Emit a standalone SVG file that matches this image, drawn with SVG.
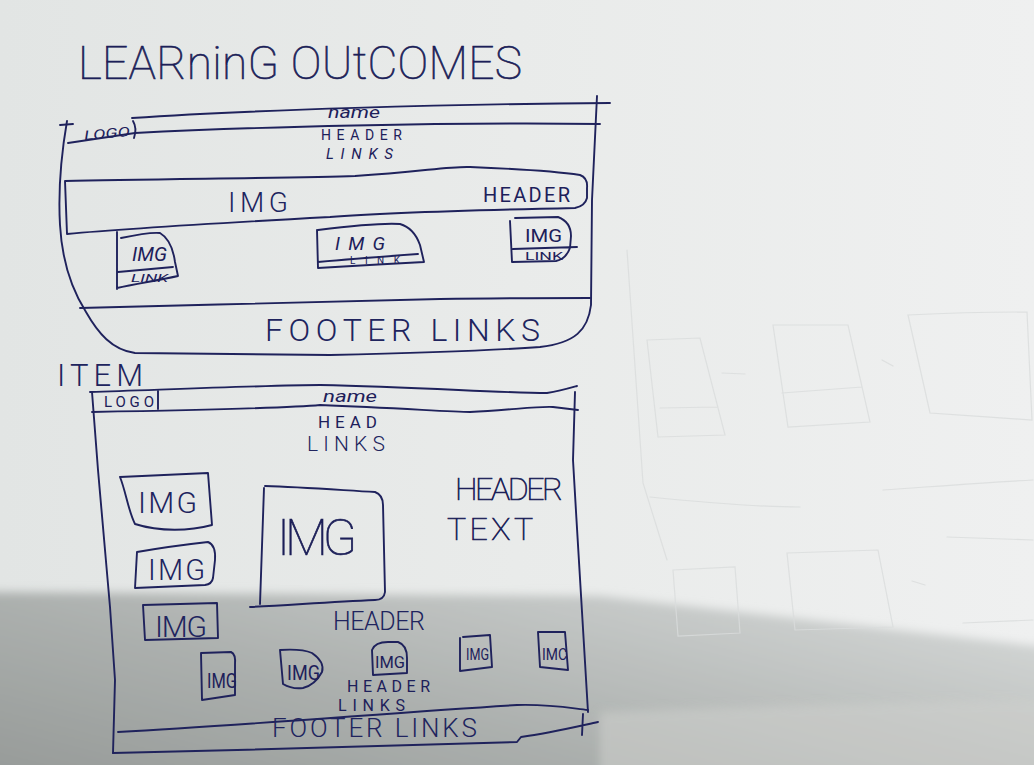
<svg xmlns="http://www.w3.org/2000/svg" width="1034" height="765" viewBox="0 0 1034 765">
  <defs>
    <linearGradient id="paper" x1="0" y1="0" x2="1" y2="0">
      <stop offset="0" stop-color="#e2e5e4"/>
      <stop offset="0.5" stop-color="#e9ebea"/>
      <stop offset="1" stop-color="#eff0f0"/>
    </linearGradient>
    <linearGradient id="shade" x1="0" y1="1" x2="1" y2="0.3">
      <stop offset="0" stop-color="#959997"/>
      <stop offset="0.45" stop-color="#abafad"/>
      <stop offset="1" stop-color="#d0d3d2"/>
    </linearGradient>
    <filter id="soft" x="-5%" y="-20%" width="110%" height="140%">
      <feGaussianBlur stdDeviation="5"/>
    </filter>
    <style>
      .ink { fill: none; stroke: #1f225c; stroke-width: 1.9; stroke-linecap: round; stroke-linejoin: round; }
      .ghost { fill: none; stroke: #d9dcdc; stroke-width: 1.2; stroke-linecap: round; opacity: 0.8; }
      .t { font-family: Roboto, "DejaVu Sans", sans-serif; fill: #20245e; font-weight: 300; }
      .thin { font-family: Roboto, "DejaVu Sans", sans-serif; fill: #1c1f58; stroke: #1c1f58; stroke-width: 0.7; font-weight: 100; }
      .h { font-family: Roboto, "DejaVu Sans", sans-serif; fill: #1d205a; font-weight: 400; }
    </style>
  </defs>

  <!-- paper and the shadow falling across its lower part -->
  <rect width="1034" height="765" fill="url(#paper)"/>
  <path d="M-20,592 L600,596 L1054,648 L1054,785 L-20,785 Z" fill="url(#shade)" filter="url(#soft)"/>
  <path d="M600,712 C760,706 900,702 1054,700 L1054,785 L600,785 Z" fill="#cfd0cd" opacity="0.55" filter="url(#soft)"/>

  <!-- faint pencil sketches showing through from the other side -->
  <g id="ghost-sketches">
    <path class="ghost" d="M647,340 L700,338 L725,435 L658,437 Z M660,408 L718,407"/>
    <path class="ghost" d="M773,325 L848,325 L870,422 L788,427 Z M782,393 L862,387"/>
    <path class="ghost" d="M908,315 C950,313 990,312 1027,312 L1032,420 C1000,418 960,415 930,413 Z"/>
    <path class="ghost" d="M627,250 L643,483 L667,560 M650,497 C700,502 760,507 800,507 M883,490 C940,486 990,482 1033,480"/>
    <path class="ghost" d="M673,570 L735,567 L740,633 L678,636 Z M787,553 L878,550 L893,627 L795,630 Z M947,537 L1033,540 M963,623 L1033,620"/>
    <path class="ghost" d="M722,373 L745,374 M882,360 L893,366 M912,581 L925,585"/>
  </g>

  <!-- page title -->
  <text id="title" class="thin" font-size="46" x="78" y="79" textLength="444" lengthAdjust="spacing">LEARninG OUtCOMES</text>

  <!-- first wireframe: learning outcomes page -->
  <g id="page-learning">
    <path class="ink" d="M67,121 C62,150 58,190 60,225 C62,260 72,290 86,312 C98,333 112,350 135,353 L330,355 C420,353 500,350 540,347 C575,343 588,330 591,305 L592,200 L597,96"/>
    <path class="ink" d="M132,118 C250,110 450,104 610,103"/>
    <path class="ink" d="M60,125 L73,124 M68,143 L135,133 C250,127 450,122 600,124"/>
    <path class="ink" d="M133,121 C136,126 136,132 134,138"/>
    <text class="h" font-size="13" x="84" y="138" textLength="46" lengthAdjust="spacingAndGlyphs" font-style="italic" transform="rotate(-5 107 133)">LOGO</text>
    <text class="h" font-size="16" x="328" y="118" textLength="52" lengthAdjust="spacingAndGlyphs" font-style="italic">name</text>
    <text class="h" font-size="14" x="321" y="140" textLength="81" lengthAdjust="spacing">HEADER</text>
    <text class="h" font-size="15" x="326" y="159" textLength="67" lengthAdjust="spacing" font-style="italic">LINKS</text>
  </g>

  <g id="banner-learning">
    <path class="ink" d="M67,234 L65,181 C150,179 300,178 355,176 C420,172 450,166 470,167 C520,169 560,172 580,175 Q588,178 587,188 L587,198 Q585,206 575,208 C480,210 380,213 330,217 C220,223 120,229 67,234"/>
    <text class="t" font-size="28" x="228" y="212" textLength="60" lengthAdjust="spacing">IMG</text>
    <text class="h" font-size="20" x="483" y="202" textLength="87" lengthAdjust="spacing">HEADER</text>
  </g>

  <g id="card-1">
    <path class="ink" d="M117,232 L117,289 M121,238 C135,235 150,232 160,233 Q172,240 175,262 L178,276 C160,280 135,284 117,288 M118,272 L173,267"/>
    <text class="h" font-size="20" x="132" y="261" textLength="35" lengthAdjust="spacingAndGlyphs" font-style="italic">IMG</text>
    <text class="h" font-size="10" x="131" y="282" textLength="37" lengthAdjust="spacingAndGlyphs" font-style="italic">LINK</text>
  </g>

  <g id="card-2">
    <path class="ink" d="M317,230 L318,268 M318,230 C350,226 385,223 400,224 Q414,228 420,245 L424,262 C390,264 350,266 318,268 M318,262 C350,259 390,256 418,254"/>
    <text class="h" font-size="19" x="335" y="250" textLength="50" lengthAdjust="spacing" font-style="italic">IMG</text>
    <text class="h" font-size="10" x="350" y="264" textLength="50" lengthAdjust="spacing">LINK</text>
  </g>

  <g id="card-3">
    <path class="ink" d="M510,221 L512,262 M515,218 L558,217 Q571,222 571,236 L570,248 Q566,259 556,261 L512,262 M513,249 L577,247"/>
    <text class="h" font-size="19" x="525" y="242" textLength="37" lengthAdjust="spacingAndGlyphs">IMG</text>
    <text class="h" font-size="10" x="525" y="260" textLength="38" lengthAdjust="spacingAndGlyphs">LINK</text>
  </g>

  <g id="footer-learning">
    <path class="ink" d="M80,308 C200,305 400,300 440,299 C500,298 560,298 590,298"/>
    <text class="t" font-size="32" x="265" y="341" textLength="275" lengthAdjust="spacing">FOOTER LINKS</text>
  </g>

  <!-- second wireframe: item page -->
  <text id="item-title" class="t" font-size="31" x="57" y="386" textLength="86" lengthAdjust="spacing">ITEM</text>

  <g id="page-item">
    <path class="ink" d="M90,392 C180,389 280,385 320,385 C420,387 500,393 547,393 C560,391 570,388 577,386"/>
    <path class="ink" d="M92,412 C200,410 300,407 320,405 C400,408 450,412 470,412 C510,410 540,406 553,407 L578,410"/>
    <path class="ink" d="M92,392 L98,470 L110,607 L115,680 L113,753"/>
    <path class="ink" d="M575,392 L573,460 C578,550 585,650 588,712"/>
    <path class="ink" d="M158,391 L158,409"/>
    <text class="h" font-size="15" x="104" y="407" textLength="50" lengthAdjust="spacing">LOGO</text>
    <text class="h" font-size="16" x="323" y="402" textLength="54" lengthAdjust="spacingAndGlyphs" font-style="italic">name</text>
    <text class="h" font-size="17" x="318" y="428" textLength="59" lengthAdjust="spacing">HEAD</text>
    <text class="t" font-size="21" x="307" y="451" textLength="78" lengthAdjust="spacing">LINKS</text>
  </g>

  <g id="thumb-1">
    <path class="ink" d="M120,477 L208,473 L212,525 C190,531 160,532 135,524 C128,510 126,492 120,477 Z"/>
    <text class="t" font-size="30" x="138" y="513" textLength="59" lengthAdjust="spacing">IMG</text>
  </g>
  <g id="thumb-2">
    <path class="ink" d="M137,552 C160,548 190,544 208,542 Q216,545 215,560 L213,578 Q212,584 205,585 L135,588 Z"/>
    <text class="t" font-size="29" x="148" y="580" textLength="57" lengthAdjust="spacing">IMG</text>
  </g>
  <g id="thumb-3">
    <path class="ink" d="M143,605 L217,603 L218,638 L145,640 Z"/>
    <text class="t" font-size="30" x="155" y="637" textLength="52" lengthAdjust="spacing">IMG</text>
  </g>

  <g id="main-image">
    <path class="ink" d="M265,486 C300,487 340,490 375,492 Q383,495 383,505 L385,592 Q384,600 375,600 C330,602 290,605 250,607 M264,488 L260,604"/>
    <text class="thin" font-size="50" x="277" y="555" textLength="80" lengthAdjust="spacing">IMG</text>
  </g>

  <g id="header-text">
    <text class="thin" font-size="32" x="455" y="500" textLength="108" lengthAdjust="spacing">HEADER</text>
    <text class="thin" font-size="32" x="447" y="540" textLength="86" lengthAdjust="spacing">TEXT</text>
  </g>

  <text id="gallery-header" class="t" font-size="25" x="333" y="630" textLength="92" lengthAdjust="spacing">HEADER</text>

  <g id="gallery-1">
    <path class="ink" d="M201,653 L231,652 Q236,654 235,665 L235,695 L202,700 Z"/>
    <text class="h" font-size="20" x="207" y="688" textLength="30" lengthAdjust="spacingAndGlyphs">IMG</text>
  </g>
  <g id="gallery-2">
    <path class="ink" d="M280,650 C295,649 305,650 312,653 Q325,662 322,672 Q315,685 303,688 C295,689 288,687 283,684 Z"/>
    <text class="h" font-size="20" x="287" y="680" textLength="33" lengthAdjust="spacingAndGlyphs">IMG</text>
  </g>
  <g id="gallery-3">
    <path class="ink" d="M373,675 L372,650 Q375,642 388,642 L398,642 Q407,645 407,658 L407,673 Z"/>
    <text class="h" font-size="16" x="375" y="668" textLength="30" lengthAdjust="spacingAndGlyphs">IMG</text>
  </g>
  <g id="gallery-4">
    <path class="ink" d="M460,638 L460,671 M463,637 L490,635 L492,667 L460,671"/>
    <text class="h" font-size="16" x="466" y="660" textLength="23" lengthAdjust="spacingAndGlyphs">IMG</text>
  </g>
  <g id="gallery-5">
    <path class="ink" d="M538,632 L565,632 L568,670 L540,667 Z"/>
    <text class="h" font-size="16" x="542" y="660" textLength="25" lengthAdjust="spacingAndGlyphs">IMC</text>
  </g>

  <g id="gallery-links">
    <text class="h" font-size="16" x="347" y="692" textLength="83" lengthAdjust="spacing">HEADER</text>
    <text class="h" font-size="16" x="338" y="711" textLength="67" lengthAdjust="spacing">LINKS</text>
  </g>

  <g id="footer-item">
    <path class="ink" d="M118,732 C250,725 400,712 517,705 C550,704 570,708 588,710"/>
    <path class="ink" d="M113,753 C250,750 420,745 517,742 L521,737 C550,733 575,727 598,722 M583,714 L582,735"/>
    <text class="t" font-size="26" x="272" y="737" textLength="205" lengthAdjust="spacing">FOOTER LINKS</text>
  </g>
</svg>
